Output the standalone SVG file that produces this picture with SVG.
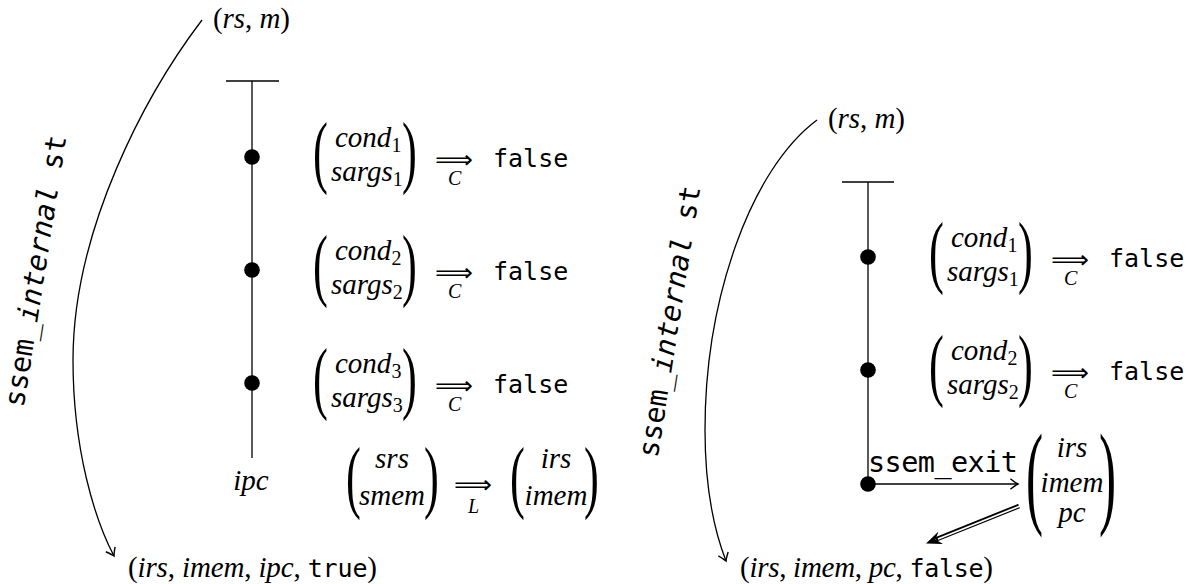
<svg xmlns="http://www.w3.org/2000/svg" width="1192" height="584" viewBox="0 0 1192 584">
<style>
text{fill:#000}
.mi{font-family:"Liberation Serif",serif;font-style:italic;font-size:29px}
.rm{font-family:"Liberation Serif",serif;font-style:normal}
.sub{font-family:"Liberation Serif",serif;font-style:normal;font-size:20px;letter-spacing:0}
.sm{font-family:"Liberation Serif",serif;font-style:italic;font-size:20px}
.tt{font-family:"DejaVu Sans Mono",monospace;font-size:25px;font-style:normal}
.lab{font-family:"DejaVu Sans Mono",monospace;font-size:28.5px}
.par2{font-family:"Liberation Serif",serif;font-size:81px}
.par3{font-family:"Liberation Serif",serif;font-size:114px}
.arr{font-family:"DejaVu Sans",sans-serif;font-size:25px}
.ln{stroke:#000;stroke-width:1.3;fill:none}
</style>
<defs>
<marker id="to" markerUnits="userSpaceOnUse" markerWidth="14" markerHeight="14" viewBox="-8 -6 10 12" refX="0" refY="0" orient="auto">
<path d="M-6.5,-4.5 Q-2,-1 0,0 Q-2,1 -6.5,4.5" fill="none" stroke="#000" stroke-width="1.2"/>
</marker>
</defs>

<!-- LEFT DIAGRAM -->
<g id="left-start"><text class="mi" x="213" y="28" textLength="77"><tspan class="rm">(</tspan>rs<tspan class="rm">, </tspan>m<tspan class="rm">)</tspan></text></g>
<g id="left-end"><text class="mi" x="128" y="577" textLength="249"><tspan class="rm">(</tspan>irs<tspan class="rm">, </tspan>imem<tspan class="rm">, </tspan>ipc<tspan class="rm">, </tspan><tspan class="tt">true</tspan><tspan class="rm">)</tspan></text></g>

<g id="left-timeline">
<line class="ln" x1="226" y1="81" x2="279" y2="81"/>
<line class="ln" x1="252" y1="81" x2="252" y2="458"/>
</g>
<g id="left-dot1"><circle cx="252" cy="157" r="7.8"/></g>
<g id="left-dot2"><circle cx="252" cy="270" r="7.8"/></g>
<g id="left-dot3"><circle cx="252" cy="383" r="7.8"/></g>
<g id="left-ipc"><text class="mi" x="251" y="490" text-anchor="middle">ipc</text></g>

<g id="left-row1">
<text class="par2" transform="translate(313,178.4) scale(0.55,1)">(</text>
<text class="mi" x="335" y="147">cond<tspan class="sub" dy="5">1</tspan></text>
<text class="mi" x="331" y="181">sargs<tspan class="sub" dy="5">1</tspan></text>
<text class="par2" transform="translate(402,178.4) scale(0.55,1)">)</text>
<text class="arr" x="435" y="167.5" textLength="38" lengthAdjust="spacingAndGlyphs">⟹</text>
<text class="sm" x="448" y="185">C</text>
<text class="tt" x="493" y="167">false</text>
</g>
<g id="left-row2" transform="translate(0,113)">
<text class="par2" transform="translate(313,178.4) scale(0.55,1)">(</text>
<text class="mi" x="335" y="147">cond<tspan class="sub" dy="5">2</tspan></text>
<text class="mi" x="331" y="181">sargs<tspan class="sub" dy="5">2</tspan></text>
<text class="par2" transform="translate(402,178.4) scale(0.55,1)">)</text>
<text class="arr" x="435" y="167.5" textLength="38" lengthAdjust="spacingAndGlyphs">⟹</text>
<text class="sm" x="448" y="185">C</text>
<text class="tt" x="493" y="167">false</text>
</g>
<g id="left-row3" transform="translate(0,226)">
<text class="par2" transform="translate(313,178.4) scale(0.55,1)">(</text>
<text class="mi" x="335" y="147">cond<tspan class="sub" dy="5">3</tspan></text>
<text class="mi" x="331" y="181">sargs<tspan class="sub" dy="5">3</tspan></text>
<text class="par2" transform="translate(402,178.4) scale(0.55,1)">)</text>
<text class="arr" x="435" y="167.5" textLength="38" lengthAdjust="spacingAndGlyphs">⟹</text>
<text class="sm" x="448" y="185">C</text>
<text class="tt" x="493" y="167">false</text>
</g>
<g id="left-row4">
<text class="par2" transform="translate(346,503.4) scale(0.55,1)">(</text>
<text class="mi" x="392" y="468" text-anchor="middle">srs</text>
<text class="mi" x="392" y="505" text-anchor="middle">smem</text>
<text class="par2" transform="translate(424,503.4) scale(0.55,1)">)</text>
<text class="arr" x="454" y="492.5" textLength="38" lengthAdjust="spacingAndGlyphs">⟹</text>
<text class="sm" x="468" y="513">L</text>
<text class="par2" transform="translate(510,503.4) scale(0.55,1)">(</text>
<text class="mi" x="556" y="468" text-anchor="middle">irs</text>
<text class="mi" x="556" y="505" text-anchor="middle">imem</text>
<text class="par2" transform="translate(584,503.4) scale(0.55,1)">)</text>
</g>

<!-- RIGHT DIAGRAM -->
<g id="right-start"><text class="mi" x="828" y="128" textLength="77"><tspan class="rm">(</tspan>rs<tspan class="rm">, </tspan>m<tspan class="rm">)</tspan></text></g>
<g id="right-end"><text class="mi" x="740" y="577" textLength="253"><tspan class="rm">(</tspan>irs<tspan class="rm">, </tspan>imem<tspan class="rm">, </tspan>pc<tspan class="rm">, </tspan><tspan class="tt">false</tspan><tspan class="rm">)</tspan></text></g>

<g id="right-timeline">
<line class="ln" x1="842" y1="182" x2="894" y2="182"/>
<line class="ln" x1="868" y1="182" x2="868" y2="484"/>
</g>
<g id="right-dot1"><circle cx="868" cy="257" r="7.8"/></g>
<g id="right-dot2"><circle cx="868" cy="370" r="7.8"/></g>
<g id="right-dot3"><circle cx="868" cy="484" r="7.8"/></g>

<g id="right-row1" transform="translate(616,100)">
<text class="par2" transform="translate(313,178.4) scale(0.55,1)">(</text>
<text class="mi" x="335" y="147">cond<tspan class="sub" dy="5">1</tspan></text>
<text class="mi" x="331" y="181">sargs<tspan class="sub" dy="5">1</tspan></text>
<text class="par2" transform="translate(402,178.4) scale(0.55,1)">)</text>
<text class="arr" x="435" y="167.5" textLength="38" lengthAdjust="spacingAndGlyphs">⟹</text>
<text class="sm" x="448" y="185">C</text>
<text class="tt" x="493" y="167">false</text>
</g>
<g id="right-row2" transform="translate(616,213)">
<text class="par2" transform="translate(313,178.4) scale(0.55,1)">(</text>
<text class="mi" x="335" y="147">cond<tspan class="sub" dy="5">2</tspan></text>
<text class="mi" x="331" y="181">sargs<tspan class="sub" dy="5">2</tspan></text>
<text class="par2" transform="translate(402,178.4) scale(0.55,1)">)</text>
<text class="arr" x="435" y="167.5" textLength="38" lengthAdjust="spacingAndGlyphs">⟹</text>
<text class="sm" x="448" y="185">C</text>
<text class="tt" x="493" y="167">false</text>
</g>
<g id="right-exit-state">
<text class="par3" transform="translate(1026,512.5) scale(0.45,1)">(</text>
<text class="mi" x="1072" y="457" text-anchor="middle">irs</text>
<text class="mi" x="1072" y="492" text-anchor="middle">imem</text>
<text class="mi" x="1072" y="522" text-anchor="middle">pc</text>
<text class="par3" transform="translate(1099,512.5) scale(0.45,1)">)</text>
</g>

<!-- CONNECTORS -->
<g id="connectors">
<path class="ln" d="M202,20 C145,95 73,230 73,360 C73,450 95,520 114,556" marker-end="url(#to)"/>
<path class="ln" d="M817,120 C750,170 705,300 705,430 C705,490 714,530 726,561" marker-end="url(#to)"/>
<line class="ln" x1="868" y1="484" x2="1018" y2="484" marker-end="url(#to)"/>
<path d="M1019,506 L936,539.4" stroke="#000" stroke-width="4.6" fill="none"/>
<path d="M1020,506 L938,539" stroke="#fff" stroke-width="1.7" fill="none"/>
<polygon points="926,543.5 943,544 935.5,539.6 938.5,531.5" fill="#000"/>
</g>

<g id="edge-labels">
<text class="lab" transform="translate(45,272.5) rotate(-81)" text-anchor="middle">ssem_<tspan font-style="italic">internal</tspan> st</text>
<text class="lab" transform="translate(679,323) rotate(-81)" text-anchor="middle">ssem_<tspan font-style="italic">internal</tspan> st</text>
<text class="lab" x="868" y="472" textLength="150">ssem_exit</text>
</g>
</svg>
